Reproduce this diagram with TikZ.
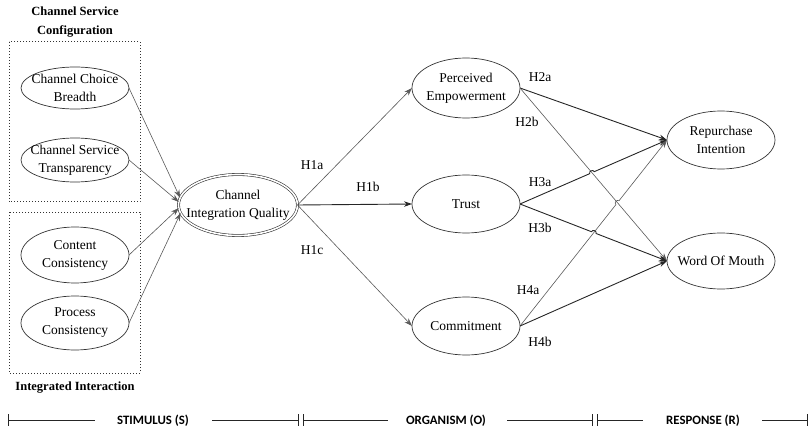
\documentclass[tikz,border=0pt]{standalone}
\usepackage{fontspec}
\setmainfont{Liberation Serif}
\newfontfamily\tnr{Liberation Serif}
\newfontfamily\barfont{Carlito}
\usetikzlibrary{arrows.meta,shapes.geometric,intersections,calc}
\begin{document}
\begin{tikzpicture}[x=1pt,y=-1pt,
  ell/.style={ellipse,draw=black!80,line width=0.7pt,inner sep=0pt,outer sep=0pt},
  lbl/.style={align=center,font=\tnr\fontsize{13.5}{18}\selectfont,inner sep=0pt},
  ttl/.style={align=center,font=\tnr\fontsize{12.5}{19}\selectfont\bfseries,inner sep=0pt},
  hyp/.style={font=\tnr\fontsize{13.5}{15}\selectfont,inner sep=0pt},
  arr/.style={-{Stealth[length=8pt,width=5.5pt]},line width=0.6pt,draw=black!65},
  arrb/.style={-{Stealth[length=8pt,width=5.5pt]},line width=0.9pt,draw=black!85},
  hop/.style={bend left=90,looseness=1.4},
  grp/.style={draw=black!80,line width=1pt,dash pattern=on 1pt off 2pt},
  bar/.style={line width=0.9pt,draw=black!85},
  stage/.style={font=\barfont\fontsize{12.8}{14}\selectfont\bfseries,inner sep=0pt}
]
\useasboundingbox (0,0) rectangle (809,433);

% group boxes and titles
\draw[grp] (9,42) rectangle (140,202);
\draw[grp] (9,212) rectangle (140,373);
\node[ttl] (t1) at (75,22) {Channel Service\\Configuration};
\node[ttl] (t2) at (75,388) {Integrated Interaction};

% stimulus nodes
\node[ell,minimum width=108pt,minimum height=42pt,label={[lbl]center:{Channel Choice\\Breadth}}] (ccb) at (75,88) {};
\node[ell,minimum width=108pt,minimum height=44pt,label={[lbl]center:{Channel Service\\Transparency}}] (cst) at (75,160) {};
\node[ell,minimum width=108pt,minimum height=56pt,label={[lbl]center:{Content\\Consistency}}] (cc) at (75,255) {};
\node[ell,minimum width=108pt,minimum height=54pt,label={[lbl]center:{Process\\Consistency}}] (pc) at (75,323) {};

% channel integration quality
\node[ell,double,double distance=1.6pt,line width=0.6pt,minimum width=119pt,minimum height=61pt,label={[lbl]center:{Channel\\Integration Quality}}] (ciq) at (238,205) {};

% organism nodes
\node[ell,minimum width=108pt,minimum height=60pt,label={[lbl]center:{Perceived\\Empowerment}}] (pe) at (466,88) {};
\node[ell,minimum width=108pt,minimum height=58pt,label={[lbl]center:{Trust}}] (tr) at (466,204) {};
\node[ell,minimum width=108pt,minimum height=58pt,label={[lbl]center:{Commitment}}] (com) at (466,326) {};

% response nodes
\node[ell,minimum width=108pt,minimum height=58pt,label={[lbl]center:{Repurchase\\Intention}}] (ri) at (721,140) {};
\node[ell,minimum width=108pt,minimum height=56pt,label={[lbl]center:{Word Of Mouth}}] (wom) at (721,261) {};

% stimulus -> CIQ
\draw[arr] (ccb.east) -- (ciq.173);
\draw[arr] (cst.east) -- (ciq.177);
\draw[arr] (cc.east) -- (ciq.183);
\draw[arr] (pc.east) -- (ciq.188);

% CIQ -> organism
\draw[arr] (ciq.east) -- (pe.west);
\draw[arrb] (ciq.east) -- (tr.west);
\draw[arr] (ciq.east) -- (com.west);

% organism -> response (with line jumps at crossings)
\path[name path=pewom] (pe.east) -- (wom.west);
\path[name path=trri] (tr.east) -- (ri.west);
\path[name path=trwom] (tr.east) -- (wom.west);
\path[name path=comri] (com.east) -- (ri.west);
\path[name intersections={of=pewom and trri,by=xa}];
\path[name intersections={of=pewom and comri,by=xb}];
\path[name intersections={of=trwom and comri,by=xc}];

\draw[arrb] (pe.east) -- (ri.west);
\draw[arr] (pe.east) -- (wom.west);
\draw[arrb] (tr.east) -- ($(xa)!2.5pt!(tr.east)$) to[hop] ($(xa)!2.5pt!(ri.west)$) -- (ri.west);
\draw[arrb] (tr.east) -- ($(xc)!2.5pt!(tr.east)$) to[hop] ($(xc)!2.5pt!(wom.west)$) -- (wom.west);
\draw[arr] (com.east) -- ($(xb)!2.5pt!(com.east)$) to[hop] ($(xb)!2.5pt!(ri.west)$) -- (ri.west);
\draw[arrb] (com.east) -- (wom.west);

% hypothesis labels
\node[hyp] (h1a) at (312,165) {H1a};
\node[hyp] (h1b) at (368,187) {H1b};
\node[hyp] (h1c) at (312,250) {H1c};
\node[hyp] (h2a) at (540,77) {H2a};
\node[hyp] (h2b) at (527,122) {H2b};
\node[hyp] (h3a) at (540,182) {H3a};
\node[hyp] (h3b) at (540,228) {H3b};
\node[hyp] (h4a) at (528,290) {H4a};
\node[hyp] (h4b) at (540,342) {H4b};

% stage bar
\draw[bar] (8,414) -- (8,426);
\draw[bar] (8,420) -- (95,420);
\node[stage] (s) at (153,421) {STIMULUS (S)};
\draw[bar] (212,420) -- (298,420);
\draw[bar] (298,414) -- (298,426);
\draw[bar] (303,414) -- (303,426);
\draw[bar] (303,420) -- (388,420);
\node[stage] (o) at (446,421) {ORGANISM (O)};
\draw[bar] (507,420) -- (592,420);
\draw[bar] (592,414) -- (592,426);
\draw[bar] (597,414) -- (597,426);
\draw[bar] (597,420) -- (643,420);
\node[stage] (r) at (703,421) {RESPONSE (R)};
\draw[bar] (762,420) -- (807.5,420);
\draw[bar] (807.5,414) -- (807.5,426);
\end{tikzpicture}
\end{document}
